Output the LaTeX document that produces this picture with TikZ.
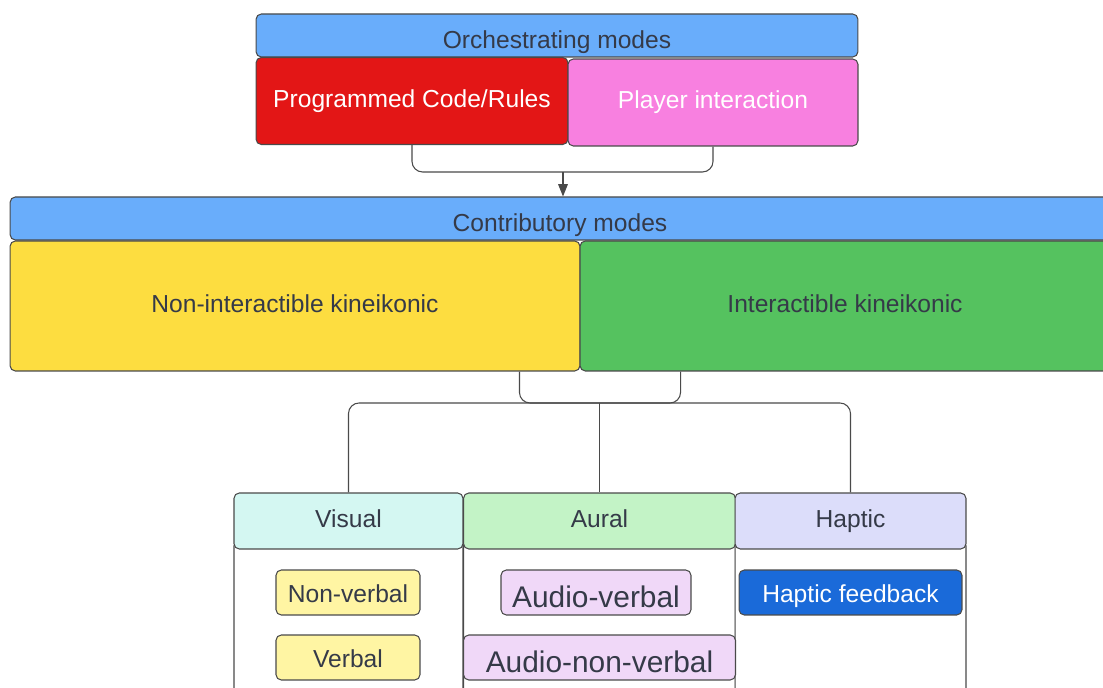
\documentclass[tikz,border=0pt]{standalone}
\usepackage{fontspec}
\setmainfont{Liberation Sans}
\usetikzlibrary{arrows.meta,calc}

\definecolor{barblue}{HTML}{69ADFB}
\definecolor{codered}{HTML}{E31616}
\definecolor{playpink}{HTML}{F880E0}
\definecolor{nonyellow}{HTML}{FDDD40}
\definecolor{intgreen}{HTML}{55C25F}
\definecolor{viscyan}{HTML}{D4F7F2}
\definecolor{aurgreen}{HTML}{C3F3C6}
\definecolor{haplav}{HTML}{DCDDFA}
\definecolor{itemyellow}{HTML}{FFF5A3}
\definecolor{itempurple}{HTML}{F0D8F8}
\definecolor{fbblue}{HTML}{1A6AD9}
\definecolor{line}{HTML}{4A4A4A}
\definecolor{ink}{HTML}{353A48}

\begin{document}
\begin{tikzpicture}[x=0.02cm,y=-0.02cm,>={Triangle[length=7pt,width=5.5pt]}]

	\tikzstyle{box}      = [rectangle, rounded corners=3pt, draw=line, line width=0.6pt, text=ink, inner sep=0pt, text height=7pt, text depth=0pt, font=\fontsize{14}{16}\selectfont]
	\tikzstyle{bar}      = [box, fill=barblue, minimum height=0.86cm, text height=15pt]
	\tikzstyle{mode}     = [box, minimum height=1.74cm]
	\tikzstyle{kine}     = [box, minimum height=2.6cm]
	\tikzstyle{col head} = [box, minimum height=1.12cm]
	\tikzstyle{col body} = [box, fill=white, anchor=north, minimum height=3.4cm]
	\tikzstyle{item}     = [box, minimum height=0.9cm, text height=11pt]
	\tikzstyle{big item} = [item, fill=itempurple, text height=17pt, font=\fontsize{17}{19}\selectfont]
	\tikzstyle{conn}     = [draw=line, line width=0.6pt, rounded corners=6pt]

	\useasboundingbox (0,0) rectangle (1103,688);
	\clip (0,0) rectangle (1103,688);

	% orchestrating modes
	\node [bar, minimum width=12.04cm] (orch) at (557,35.5) {Orchestrating modes};
	\node [mode, fill=codered, text=white, minimum width=6.24cm] (prog) at (412,101) {Programmed Code/Rules};
	\node [mode, fill=playpink, text=white, minimum width=5.8cm] (player) at (713,102.5) {Player interaction};

	% contributory modes
	\node [bar, minimum width=22cm] (contrib) at (560,218.5) {Contributory modes};
	\node [kine, fill=nonyellow, minimum width=11.4cm] (nonint) at (295,306) {Non-interactible kineikonic};
	\node [kine, fill=intgreen, minimum width=10.6cm] (inter) at (845,306) {Interactible kineikonic};

	% columns
	\node [col body, minimum width=4.58cm] (visbody) at (348.5,540) {};
	\node [col body, minimum width=5.44cm] (aurbody) at (599.5,540) {};
	\node [col body, minimum width=4.62cm] (hapbody) at (850.5,540) {};
	\node [col head, fill=viscyan, minimum width=4.58cm] (vis) at (348.5,521) {Visual};
	\node [col head, fill=aurgreen, minimum width=5.44cm] (aur) at (599.5,521) {Aural};
	\node [col head, fill=haplav, minimum width=4.62cm] (hap) at (850.5,521) {Haptic};

	\node [item, fill=itemyellow, minimum width=2.88cm] (nonverb) at (348,592.5) {Non-verbal};
	\node [item, fill=itemyellow, minimum width=2.88cm] (verb) at (348,657.5) {Verbal};
	\node [big item, minimum width=3.8cm] (audverb) at (596,592.5) {Audio-verbal};
	\node [big item, minimum width=5.44cm] (audnon) at (599.5,657.5) {Audio-non-verbal};
	\node [item, fill=fbblue, text=white, minimum width=4.46cm] (hapfb) at (850.5,592.5) {Haptic feedback};

	% connectors
	\coordinate (j1) at (563,172);
	\draw [conn] (prog.south) |- (j1) -| (player.south);
	\draw [line, line width=0.6pt, ->] (j1) -- (j1 |- contrib.north);

	\coordinate (j2) at (599.5,403);
	\draw [conn] ($(nonint.south east)+(-61,0)$) |- (j2) -| ($(inter.south west)+(101,0)$);
	\draw [conn] (vis.north) |- (j2) -| (hap.north);
	\draw [conn] (j2) -- (aur.north);

\end{tikzpicture}
\end{document}
